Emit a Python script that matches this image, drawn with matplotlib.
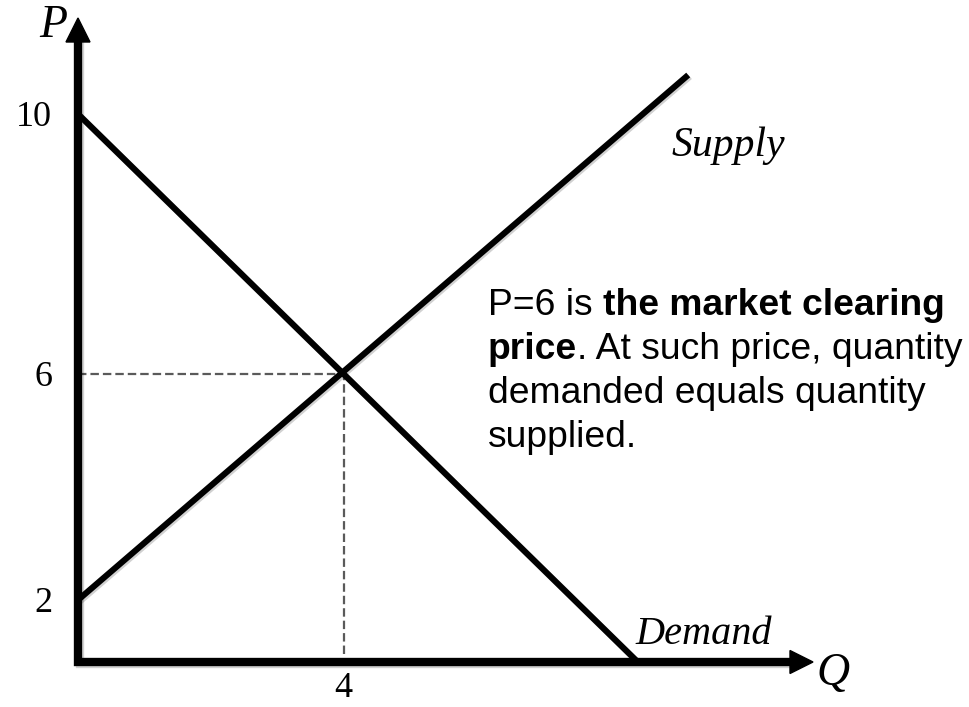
import numpy as np
import matplotlib
matplotlib.use("Agg")
import matplotlib.pyplot as plt
from matplotlib.patches import Polygon
import matplotlib.patheffects as pe

# ---- data ----
demand_q = [0.0, 8.43]
demand_p = [10.0, 0.0]
supply_q = [0.0, 9.19]
supply_p = [2.0, 10.6]
eq_q = 4
eq_p = 6
p_ticks = [2, 6, 10]
p_tick_labels = ["2", "6", "10"]
q_ticks = [4]
q_tick_labels = ["4"]

W, H = 969, 707
fig = plt.figure(figsize=(W / 100, H / 100), dpi=100)

def px(x, y):
    return x / W, 1 - y / H

# axes: origin at pixel (78, 662), top at 42, right at 790
ax = fig.add_axes([78 / W, (H - 662) / H, (790 - 78) / W, (662 - 42) / H])

# schematic (not-to-scale) price axis
nodes_p = [0, 2, 6, 10, 14]
nodes_h = [0, 62, 288, 548, 808]
fwd = lambda v: np.interp(v, nodes_p, nodes_h)
inv = lambda v: np.interp(v, nodes_h, nodes_p)
ax.set_yscale("function", functions=(fwd, inv))
ax.set_xlim(0, 712 / 66.4)
ax.set_ylim(0, float(inv(620)))

for s in ax.spines.values():
    s.set_visible(False)

shadow = [pe.SimpleLineShadow(offset=(1.2, -1.2), shadow_color="k", alpha=0.18), pe.Normal()]

# dashed guides
ax.plot([0, eq_q], [eq_p, eq_p], color="#5a5a5a", lw=1.6, ls=(0, (3.8, 1.8)), zorder=2)
ax.plot([eq_q, eq_q], [0.26, eq_p], color="#5a5a5a", lw=1.6, ls=(0, (3.8, 1.8)), zorder=2)

# curves
ax.plot(demand_q, demand_p, color="black", lw=4.4, solid_capstyle="butt", zorder=3,
        path_effects=shadow, clip_on=False)
ax.plot(supply_q, supply_p, color="black", lw=4.4, solid_capstyle="butt", zorder=3,
        path_effects=shadow, clip_on=False)

# axes with arrows
ax.plot([0, 0, 1], [1, 0, 0], transform=ax.transAxes, color="black", lw=6.0,
        solid_joinstyle="miter", solid_capstyle="projecting", clip_on=False, zorder=4,
        path_effects=shadow)
ax.add_patch(Polygon([(-12 / 712, 1), (12 / 712, 1), (0, 1 + 24 / 620)], closed=True,
                     transform=ax.transAxes, color="black", clip_on=False, zorder=4))
ax.add_patch(Polygon([(1, -11.5 / 620), (1, 11.5 / 620), (1 + 23 / 712, 0)], closed=True,
                     transform=ax.transAxes, color="black", clip_on=False, zorder=4))

# ticks
serif = "Liberation Serif"
ax.set_yticks(p_ticks, p_tick_labels)
ax.set_xticks(q_ticks, q_tick_labels)
ax.tick_params(axis="y", length=0, pad=18.5, labelsize=26)
ax.tick_params(axis="x", length=0, pad=7, labelsize=26)
for lab in ax.get_xticklabels() + ax.get_yticklabels():
    lab.set_fontfamily(serif)

# axis names and curve labels
fig.text(*px(53, 37), "P", family=serif, style="italic", fontsize=33, ha="center", va="baseline")
fig.text(*px(833, 685), "Q", family=serif, style="italic", fontsize=33, ha="center", va="baseline")
fig.text(*px(672, 156), "Supply", family=serif, style="italic", fontsize=30, ha="left", va="baseline")
fig.text(*px(635, 644), "Demand", family=serif, style="italic", fontsize=29, ha="left", va="baseline")

# annotation
sans = "Liberation Sans"
fs = 26.8
t1 = fig.text(*px(488, 315), "P=6 is", family=sans, fontsize=fs, va="baseline", ha="left")
ax.annotate("the market clearing", xy=(1, 0), xycoords=t1, xytext=(7.5, 0),
            textcoords="offset points", family=sans, fontsize=fs, fontweight="bold",
            va="bottom", ha="left")
t2 = fig.text(*px(488, 359), "price", family=sans, fontsize=fs, fontweight="bold",
              va="baseline", ha="left")
ax.annotate(". At such price, quantity", xy=(1, 0), xycoords=t2, xytext=(0, 0),
            textcoords="offset points", family=sans, fontsize=fs, va="bottom", ha="left")
fig.text(*px(488, 403), "demanded equals quantity", family=sans, fontsize=fs,
         va="baseline", ha="left")
fig.text(*px(488, 447), "supplied.", family=sans, fontsize=fs, va="baseline", ha="left")

fig.savefig("out.png", dpi=100)
